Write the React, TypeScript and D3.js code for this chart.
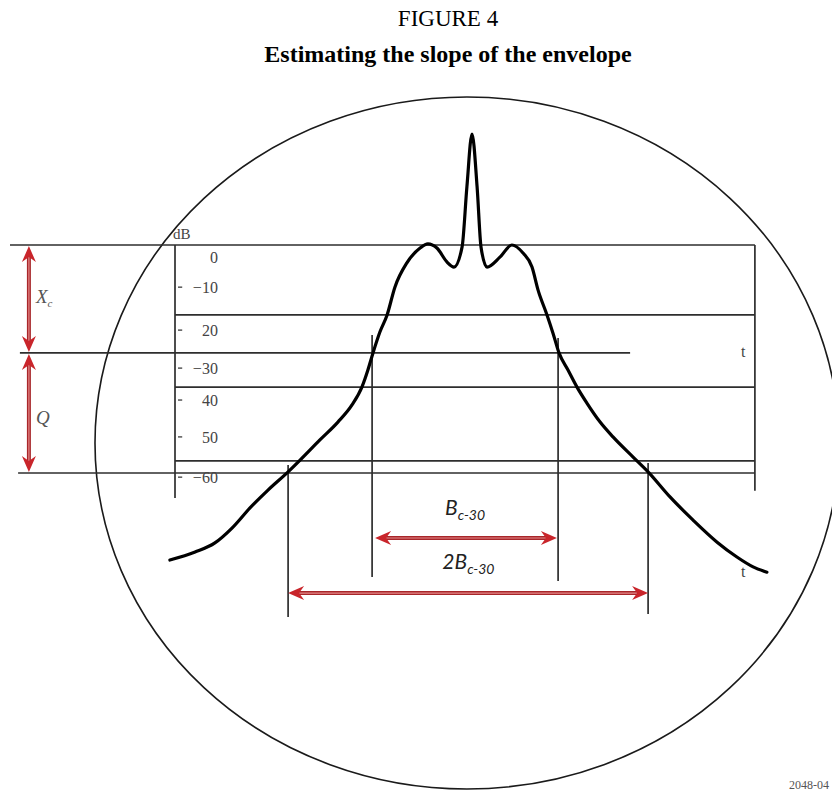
import React, { useEffect, useRef } from "react";
import * as d3 from "d3";

// spectrum trace (offset in arbitrary units, level in dB)
const curveOffset = [-100.7, -92.3, -85.7, -80.0, -74.0, -68.0, -61.3, -57.3, -50.7, -44.7, -40.0, -36.7, -34.7, -33.0, -30.7, -28.3, -25.7, -21.7, -17.3, -14.7, -11.7, -8.3, -6.0, -3.3, -1.7, 0, 1.7, 3.0, 5.0, 9.3, 13.3, 17.0, 20.0, 22.0, 25.0, 27.0, 29.0, 32.0, 35.0, 38.3, 42.7, 47.0, 53.7, 58.7, 66.0, 73.7, 81.7, 88.3, 93.7, 98.3];
const curveLevel = [-82.9, -80.8, -78.4, -74.5, -69.2, -64.5, -59.7, -56.6, -51.3, -46.6, -42.1, -37.4, -32.9, -28.4, -22.9, -18.4, -11.1, -4.7, -0.8, 0.3, -0.8, -4.5, -5.8, -0.5, 15.3, 29.2, 15.3, -0.5, -5.8, -3.2, 0, -2.1, -5.8, -11.8, -18.4, -23.2, -28.4, -32.9, -37.4, -41.6, -46.6, -50.5, -55.8, -59.7, -66.3, -72.4, -78.2, -82.1, -84.7, -86.1];

// horizontal graticule lines
const gridLevels = [0, -18.4, -28.4, -37.4, -56.8, -60];
const gridFrom = [-154, -99, -150.7, -99, -99, -151.3];
const gridTo = [94.3, 94.3, 52.7, 94.3, 94.3, 94.3];

// y-axis tick labels (as printed in the original)
const tickLabels = ["0", "\u221210", "20", "\u221230", "40", "50", "\u221260"];
const tickLevels = [-3.2, -11.1, -22.4, -32.4, -40.8, -50.5, -61.1];

// bandwidth markers
const bw30 = [-33.3, 28.7];
const bw30Top = [-23.7, -24.5];
const bw30Bottom = [-87.4, -88.4];
const bw60 = [-61.3, 58.7];
const bw60Top = [-57.9, -57.4];
const bw60Bottom = [-97.9, -97.1];
const bw30Arrow = [-32.3, 28.3];
const bw60Arrow = [-61.3, 58.7];
const arrowLevels = [-77.1, -91.6];

// level arrows on the left: X_c and Q
const sideArrowOffset = -147.7;
const sideArrowLevels = [0, -28.4, -60];

// the round screen
const screenCentre = [-1.67, -52.1];
const screenRadius = [124, 91.05];

const W = 832;
const H = 793;
const red = "#c9252b";

const App = () => {
  const ref = useRef(null);

  useEffect(() => {
    const svg = d3.select(ref.current);
    svg.selectAll("*").remove();

    const x = d3.scaleLinear().domain([-100, 100]).range([172, 772]);
    const y = d3.scaleLinear().domain([0, -60]).range([245, 473]);

    svg.append("rect").attr("width", W).attr("height", H).attr("fill", "#fff");

    // titles
    svg
      .append("text")
      .attr("x", 448)
      .attr("y", 26)
      .attr("text-anchor", "middle")
      .attr("font-family", "Liberation Serif, serif")
      .attr("font-size", 23)
      .text("FIGURE 4");
    svg
      .append("text")
      .attr("x", 448)
      .attr("y", 62)
      .attr("text-anchor", "middle")
      .attr("font-family", "Liberation Serif, serif")
      .attr("font-weight", "bold")
      .attr("font-size", 24)
      .text("Estimating the slope of the envelope");

    // screen
    svg
      .append("ellipse")
      .attr("cx", x(screenCentre[0]))
      .attr("cy", y(screenCentre[1]))
      .attr("rx", x(screenRadius[0]) - x(0))
      .attr("ry", y(-screenRadius[1]) - y(0))
      .attr("fill", "none")
      .attr("stroke", "#1a1a1a")
      .attr("stroke-width", 1.6);

    const grid = svg.append("g").attr("stroke", "#2e2e2e").attr("stroke-width", 1.7);

    gridLevels.forEach((l, i) => {
      grid
        .append("line")
        .attr("x1", x(gridFrom[i]))
        .attr("x2", x(gridTo[i]))
        .attr("y1", y(l))
        .attr("y2", y(l));
    });

    // axes (left and right verticals)
    grid
      .append("line")
      .attr("x1", x(-99))
      .attr("x2", x(-99))
      .attr("y1", y(0))
      .attr("y2", y(-66.6));
    grid
      .append("line")
      .attr("x1", x(94.3))
      .attr("x2", x(94.3))
      .attr("y1", y(0))
      .attr("y2", y(-64.7));

    // bandwidth verticals
    bw30.forEach((f, i) => {
      grid
        .append("line")
        .attr("x1", x(f))
        .attr("x2", x(f))
        .attr("y1", y(bw30Top[i]))
        .attr("y2", y(bw30Bottom[i]));
    });
    bw60.forEach((f, i) => {
      grid
        .append("line")
        .attr("x1", x(f))
        .attr("x2", x(f))
        .attr("y1", y(bw60Top[i]))
        .attr("y2", y(bw60Bottom[i]));
    });

    // ticks + labels
    const axisG = svg.append("g").attr("fill", "#444");
    tickLevels.forEach((l, i) => {
      if (i > 0) {
        axisG
          .append("line")
          .attr("x1", x(-98))
          .attr("x2", x(-96.6))
          .attr("y1", y(l))
          .attr("y2", y(l))
          .attr("stroke", "#555")
          .attr("stroke-width", 1.5);
      }
      axisG
        .append("text")
        .attr("x", x(-84.7))
        .attr("y", y(l))
        .attr("dy", "0.35em")
        .attr("text-anchor", "end")
        .attr("font-family", "Liberation Serif, serif")
        .attr("font-size", 16)
        .text(tickLabels[i]);
    });
    axisG
      .append("text")
      .attr("x", x(-99.7))
      .attr("y", y(1.6))
      .attr("font-family", "Liberation Serif, serif")
      .attr("font-size", 15)
      .text("dB");
    [-29.5, -87.4].forEach((l) => {
      axisG
        .append("text")
        .attr("x", x(89.7))
        .attr("y", y(l))
        .attr("font-family", "Liberation Serif, serif")
        .attr("font-size", 16)
        .text("t");
    });

    // spectrum trace
    const pts = curveOffset.map((f, i) => [f, curveLevel[i]]);
    svg
      .append("path")
      .datum(pts)
      .attr("fill", "none")
      .attr("stroke", "#000")
      .attr("stroke-width", 3.2)
      .attr("stroke-linejoin", "round")
      .attr("stroke-linecap", "round")
      .attr(
        "d",
        d3
          .line()
          .curve(d3.curveMonotoneX)
          .x((d) => x(d[0]))
          .y((d) => y(d[1]))
      );

    // red double-headed arrows
    const arrow = (x1, y1, x2, y2) => {
      const g = svg.append("g");
      const ang = Math.atan2(y2 - y1, x2 - x1);
      const len = Math.hypot(x2 - x1, y2 - y1);
      const a = g.append("g").attr("transform", `translate(${x1},${y1}) rotate(${(ang * 180) / Math.PI})`);
      a.append("line").attr("x1", 8).attr("x2", len - 8).attr("stroke", "#a8262a").attr("stroke-width", 4);
      a.append("line").attr("x1", 8).attr("x2", len - 8).attr("stroke", "#e58a8a").attr("stroke-width", 1.2);
      a.append("path").attr("d", "M0,0 L16,-7 L11,0 L16,7 Z").attr("fill", red);
      a.append("path")
        .attr("d", `M${len},0 L${len - 16},-7 L${len - 11},0 L${len - 16},7 Z`)
        .attr("fill", red);
    };

    arrow(x(bw30Arrow[0]), y(arrowLevels[0]), x(bw30Arrow[1]), y(arrowLevels[0]));
    arrow(x(bw60Arrow[0]), y(arrowLevels[1]), x(bw60Arrow[1]), y(arrowLevels[1]));
    arrow(x(sideArrowOffset), y(sideArrowLevels[0]) + 1, x(sideArrowOffset), y(sideArrowLevels[1]) - 1);
    arrow(x(sideArrowOffset), y(sideArrowLevels[1]) + 1, x(sideArrowOffset), y(sideArrowLevels[2]) - 1);

    // bandwidth labels
    const bLabel = (cx, base, pre) => {
      const t = svg
        .append("text")
        .attr("x", cx)
        .attr("y", base)
        .attr("text-anchor", "middle")
        .attr("font-family", "Lato, Open Sans, sans-serif")
        .attr("font-style", "italic")
        .attr("fill", "#222");
      t.append("tspan").attr("font-size", 21).text(pre);
      t.append("tspan").attr("font-size", 14).attr("dy", 5).text("c-30");
    };
    bLabel(x(-2.3), y(-71), "B");
    bLabel(x(-1.2), y(-85.3), "2B");

    // X_c and Q
    const side = svg
      .append("text")
      .attr("x", 36)
      .attr("y", y(-15.3))
      .attr("font-family", "Liberation Serif, serif")
      .attr("font-style", "italic")
      .attr("font-size", 19)
      .attr("fill", "#555");
    side.append("tspan").text("X");
    side.append("tspan").attr("font-size", 11).attr("dy", 4).text("c");
    svg
      .append("text")
      .attr("x", 36)
      .attr("y", y(-47))
      .attr("font-family", "Liberation Serif, serif")
      .attr("font-style", "italic")
      .attr("font-size", 19)
      .attr("fill", "#555")
      .text("Q");

    svg
      .append("text")
      .attr("x", 829)
      .attr("y", 789)
      .attr("text-anchor", "end")
      .attr("font-family", "Liberation Serif, serif")
      .attr("font-size", 12)
      .attr("fill", "#555")
      .text("2048-04");
  }, []);

  return (
    <svg
      ref={ref}
      width={W}
      height={H}
      style={{ position: "absolute", left: 0, top: 0 }}
    />
  );
};

export default App;
